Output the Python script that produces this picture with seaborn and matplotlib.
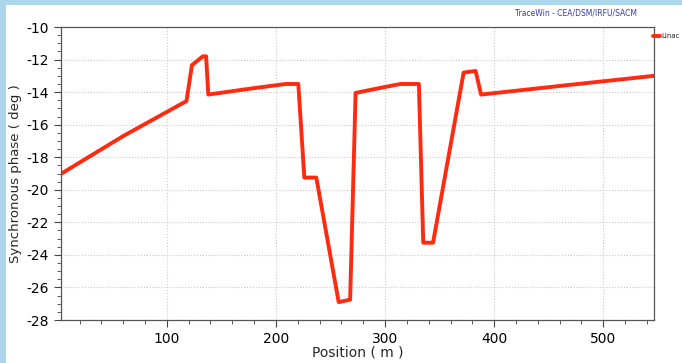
import numpy as np
import pandas as pd
import matplotlib
matplotlib.use("Agg")
import matplotlib.pyplot as plt
import seaborn as sns
from matplotlib.patches import Rectangle
from matplotlib.ticker import MultipleLocator

# valores
position = [3.5, 60, 118, 123, 133, 136, 138, 175, 209, 220.5, 226, 237,
            257.5, 268, 273, 295, 314, 331, 335, 344, 372, 383, 388,
            470, 546.5]
phase = [-19.0, -16.7, -14.55, -12.35, -11.8, -11.8, -14.15, -13.8, -13.5,
         -13.5, -19.25, -19.25, -26.9, -26.75, -14.05, -13.75, -13.5, -13.5,
         -23.25, -23.25, -12.8, -12.7, -14.15, -13.55, -13.0]

df = pd.DataFrame({'Position': position, 'Phase': phase})

sns.set_style('white')
plt.rcParams['font.family'] = ['DejaVu Sans']
plt.rcParams['axes.unicode_minus'] = False

fig = plt.figure(figsize=(6.82, 3.63), dpi=100)
fig.patch.set_facecolor('#acd6ea')
fig.patches.append(Rectangle((6 / 682, 0), 1, 1 - 5 / 363, transform=fig.transFigure,
                             facecolor='white', edgecolor='none', zorder=-5))

ax = fig.add_axes([61 / 682, 43 / 363, 593 / 682, 293 / 363])
ax.set_zorder(1)
sns.lineplot(data=df, x='Position', y='Phase', sort=False, color='#ff2a10',
             linewidth=2.8, ax=ax, label='Linac')

ax.set_xlim(3, 546.5)
ax.set_ylim(-28, -10)
ax.xaxis.set_major_locator(MultipleLocator(100))
ax.xaxis.set_minor_locator(MultipleLocator(20))
ax.yaxis.set_major_locator(MultipleLocator(2))
ax.yaxis.set_minor_locator(MultipleLocator(0.5))
ax.grid(True, which='major', linestyle=':', color='#c8c8c8', linewidth=0.8)
ax.tick_params(which='both', direction='out', colors='#444444', labelcolor='black',
               labelsize=10, bottom=True, left=True)
ax.tick_params(which='major', length=5)
ax.tick_params(which='minor', length=3)
for s in ax.spines.values():
    s.set_color('#555555')
    s.set_linewidth(0.9)

ax.set_xlabel('Position ( m )', fontsize=10, labelpad=0)
ax.set_ylabel('Synchronous phase ( deg )', fontsize=9.5, labelpad=3)

ax.get_legend().remove()
fig.legend(loc='upper left', bbox_to_anchor=(647 / 682, 1 - 27 / 363), frameon=False,
           fontsize=5, handlelength=0.9, handletextpad=0.3)

fig.text(637 / 682, 1 - 13 / 363, 'TraceWin - CEA/DSM/IRFU/SACM', ha='right', va='center',
         fontsize=5.5, color='#3a3aa8')

plt.savefig('out.png', dpi=100, facecolor=fig.get_facecolor())
